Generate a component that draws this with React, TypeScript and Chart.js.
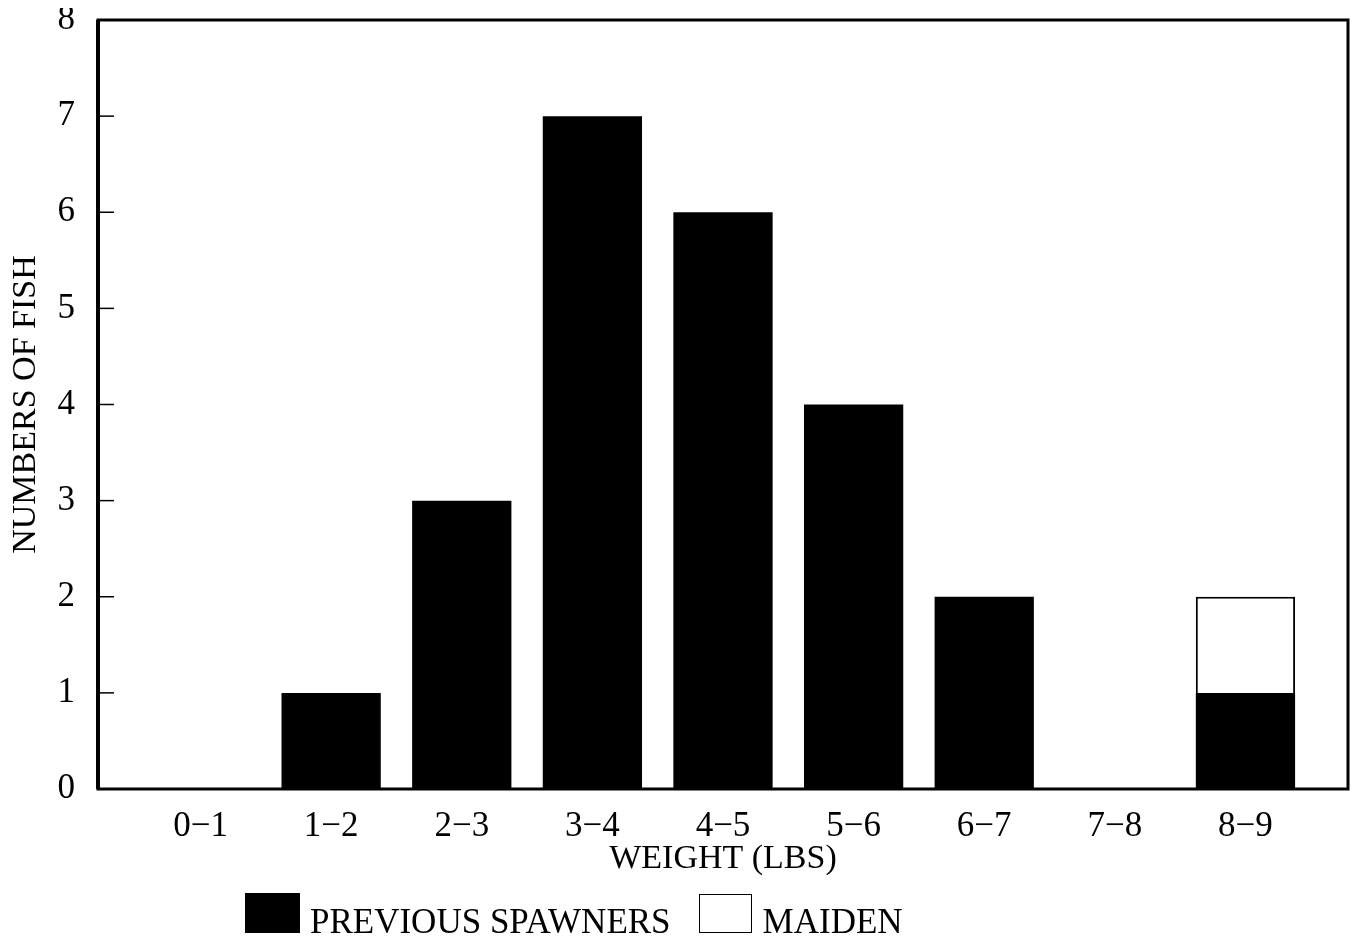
import React, { useEffect, useRef } from "react";
import { Chart, registerables } from "chart.js";

Chart.register(...registerables);

const categories = ["0−1", "1−2", "2−3", "3−4", "4−5", "5−6", "6−7", "7−8", "8−9"];
const previousSpawners = [0, 1, 3, 7, 6, 4, 2, 0, 1];
const maiden = [0, 0, 0, 0, 0, 0, 0, 0, 1];
const yTickValues = [0, 1, 2, 3, 4, 5, 6, 7, 8];
const innerTickValues = [1, 2, 3, 4, 5, 6, 7];

const FONT = "'Liberation Serif', 'Times New Roman', serif";

const framePlugin = {
  id: "frame",
  afterDatasetsDraw(chart: any) {
    const { ctx, chartArea: a, scales } = chart;
    ctx.save();
    ctx.strokeStyle = "#000";
    ctx.lineWidth = 3;
    ctx.strokeRect(a.left, a.top, a.right - a.left, a.bottom - a.top);
    ctx.lineWidth = 4;
    ctx.beginPath();
    ctx.moveTo(a.left, a.top);
    ctx.lineTo(a.left, a.bottom);
    ctx.stroke();
    ctx.lineWidth = 1.5;
    innerTickValues.forEach((v) => {
      const y = scales.y.getPixelForValue(v);
      ctx.beginPath();
      ctx.moveTo(a.left, y);
      ctx.lineTo(a.left + 16, y);
      ctx.stroke();
    });
    ctx.restore();
  },
};

export default function App() {
  const ref = useRef<HTMLCanvasElement | null>(null);

  useEffect(() => {
    if (!ref.current) return;
    const font = { family: FONT, size: 35 };
    const chart = new Chart(ref.current, {
      type: "bar",
      data: {
        datasets: [
          {
            label: "PREVIOUS SPAWNERS",
            data: previousSpawners.map((v, i) => ({ x: i, y: v })),
            backgroundColor: "#000",
            borderWidth: 0,
            barPercentage: 0.76,
            categoryPercentage: 1,
            stack: "s",
          },
          {
            label: "MAIDEN",
            data: maiden.map((v, i) => ({ x: i, y: v })),
            backgroundColor: "#fff",
            borderColor: "#000",
            borderWidth: (c: any) => (c.raw && c.raw.y > 0 ? 2 : 0),
            barPercentage: 0.76,
            categoryPercentage: 1,
            stack: "s",
          },
        ] as any,
      },
      options: {
        animation: false,
        responsive: false,
        layout: { padding: { top: 12, right: 2, left: 0, bottom: 0 } },
        plugins: { legend: { display: false }, tooltip: { enabled: false } },
        scales: {
          x: {
            type: "linear",
            min: -0.785,
            max: 8.785,
            stacked: true,
            offset: false,
            grid: { display: false, drawTicks: false },
            border: { display: false },
            ticks: {
              stepSize: 1,
              includeBounds: false,
              autoSkip: false,
              maxRotation: 0,
              padding: 17,
              color: "#000",
              font,
              callback: (v: any) => (Number.isInteger(v) && categories[v] !== undefined ? categories[v] : ""),
            },
            title: {
              display: true,
              text: "WEIGHT (LBS)",
              color: "#000",
              font: { family: FONT, size: 34 },
              padding: { top: 0, bottom: 55 },
            },
            afterFit: (s: any) => {
              s.height = 145;
              s.paddingLeft = 0;
              s.paddingRight = 0;
            },
          },
          y: {
            min: 0,
            max: 8,
            stacked: true,
            grid: { display: false, drawTicks: false },
            border: { display: false },
            afterBuildTicks: (s: any) => {
              s.ticks = yTickValues.map((v) => ({ value: v }));
            },
            ticks: { stepSize: 1, padding: 23, color: "#000", font },
            title: {
              display: true,
              text: "NUMBERS OF FISH",
              color: "#000",
              font: { family: FONT, size: 34, lineHeight: 1.05 },
              padding: { top: 0, bottom: 0 },
            },
            afterFit: (s: any) => {
              s.width = 90;
              s.paddingTop = 0;
              s.paddingBottom = 0;
            },
          },
        } as any,
      },
      plugins: [framePlugin],
    });
    return () => chart.destroy();
  }, []);

  const textStyle: React.CSSProperties = {
    fontFamily: FONT,
    fontSize: 35,
    color: "#000",
    verticalAlign: "baseline",
  };

  return (
    <div style={{ position: "relative", width: 1342, height: 926, overflow: "hidden" }}>
      <canvas ref={ref} width={1342} height={926} style={{ display: "block" }} />
      <div
        style={{
          position: "absolute",
          left: 237,
          top: 885,
          whiteSpace: "nowrap",
          lineHeight: 1,
        }}
      >
        <span
          style={{
            display: "inline-block",
            width: 55,
            height: 40,
            background: "#000",
            verticalAlign: "baseline",
            marginRight: 10,
          }}
        />
        <span style={{ ...textStyle, marginRight: 28 }}>PREVIOUS SPAWNERS</span>
        <span
          style={{
            display: "inline-block",
            width: 51,
            height: 37,
            background: "#fff",
            border: "1.5px solid #000",
            verticalAlign: "baseline",
            marginRight: 11,
          }}
        />
        <span style={textStyle}>MAIDEN</span>
      </div>
    </div>
  );
}
